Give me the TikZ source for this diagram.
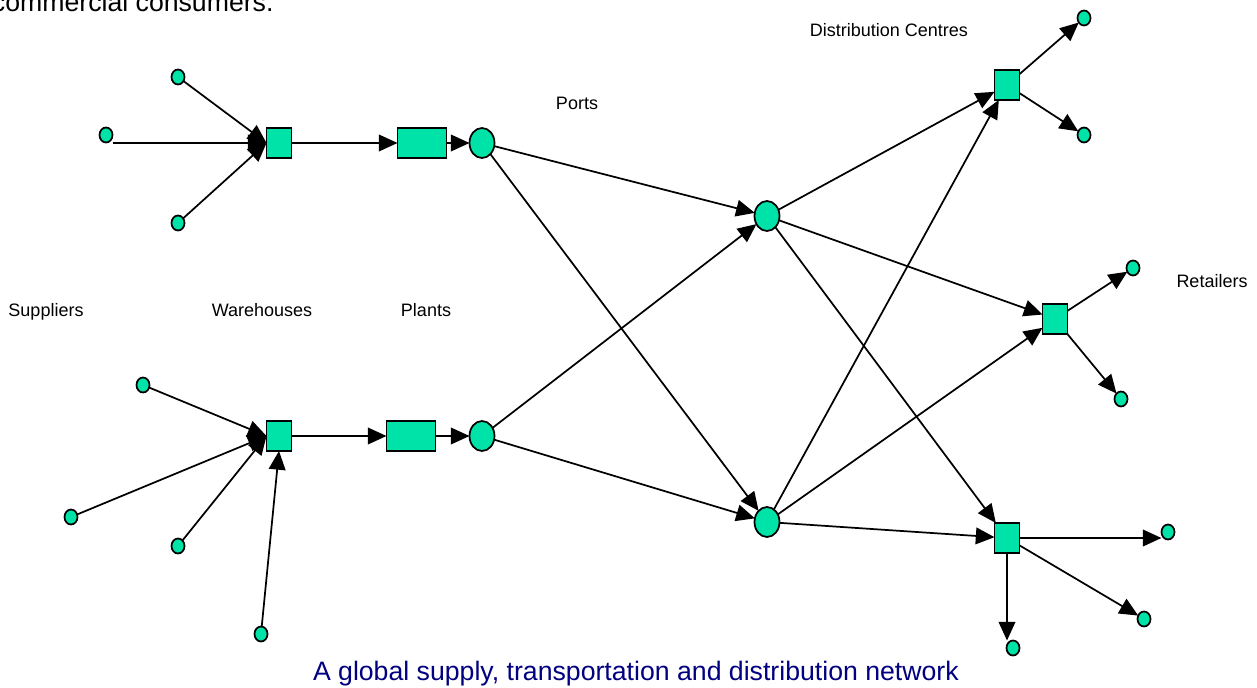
\documentclass[tikz,border=0pt]{standalone}
\usepackage{fontspec}
\setmainfont{Liberation Sans}
\usetikzlibrary{shapes.geometric,arrows.meta}
\definecolor{nodegreen}{RGB}{0,227,168}
\definecolor{captionblue}{RGB}{0,0,128}
\def\px{0.75pt}

\begin{document}
\begin{tikzpicture}[x=\px, y=-\px, line width=1.3pt,
    every node/.style={inner sep=0pt, outer sep=0pt},
    small/.style={ellipse, draw, fill=nodegreen, minimum width=9.75pt, minimum height=11.25pt},
    port/.style={ellipse, draw, fill=nodegreen, minimum width=18.75pt, minimum height=22.5pt},
    box/.style={rectangle, draw, fill=nodegreen, minimum width=18.75pt, minimum height=22.5pt},
    plant/.style={box, minimum width=36.75pt},
    stage/.style={font=\fontsize{13.5}{16}\selectfont, anchor=base},
    flow/.style={-{Triangle[length=14pt, width=12.5pt]}}]
      \useasboundingbox (0,0) rectangle (1257,688);
      \node[anchor=base west, font=\fontsize{20}{24}\selectfont] (topline) at (-8,12) {commercial consumers.};
      \node[small] (s1) at (178,77) {};
      \node[small] (s2) at (106,135) {};
      \node[small] (s3) at (178,223) {};
      \node[small] (s4) at (143,385) {};
      \node[small] (s5) at (71,517) {};
      \node[small] (s6) at (178,546) {};
      \node[small] (s7) at (261,634) {};
      \node[box] (wA) at (279,143) {};
      \node[box] (wB) at (279,436) {};
      \node[plant] (pA) at (422,143) {};
      \node[plant] (pB) at (411,436) {};
      \node[port] (oA) at (482,143) {};
      \node[port] (oB) at (482,436) {};
      \node[port] (iA) at (767,216) {};
      \node[port] (iB) at (767,522) {};
      \node[box] (dA) at (1007,85) {};
      \node[box] (dB) at (1055,319) {};
      \node[box] (dC) at (1007,538) {};
      \node[small] (r1) at (1084,18) {};
      \node[small] (r2) at (1084,135) {};
      \node[small] (r3) at (1133,268) {};
      \node[small] (r4) at (1121,399) {};
      \node[small] (r5) at (1168,532) {};
      \node[small] (r6) at (1144,619) {};
      \node[small] (r7) at (1013,648) {};
      \node[stage] (suppliers) at (46,316) {Suppliers};
      \node[stage] (warehouses) at (262,316) {Warehouses};
      \node[stage] (plants) at (426,316) {Plants};
      \node[stage] (ports) at (577,110) {Ports};
      \node[stage] (centres) at (889,37) {Distribution Centres};
      \node[stage] (retailers) at (1212,287) {Retailers};
      \draw[flow] (s1) -- (wA.west);
      \draw[flow] (s2.east |- wA.west) -- (wA.west);
      \draw[flow] (s3) -- (wA.west);
      \foreach \s in {s4,s5,s6} \draw[flow] (\s) -- (wB.west);
      \draw[flow] (s7) -- (wB.south);
      \draw[flow] (wA) -- (pA);
      \draw[flow] (pA) -- (oA);
      \draw[flow] (wB) -- (pB);
      \draw[flow] (pB) -- (oB);
      \foreach \o in {oA,oB} {
        \draw[flow] (\o) -- (iA);
        \draw[flow] (\o) -- (iB);
      }
      \foreach \i in {iA,iB} {
        \draw[flow] (\i) -- (dA);
        \draw[flow] (\i) -- (dB);
        \draw[flow] (\i) -- (dC);
      }
      \draw[flow] (dA) -- (r1);
      \draw[flow] (dA) -- (r2);
      \draw[flow] (dB) -- (r3);
      \draw[flow] (dB) -- (r4);
      \draw[flow] (dC.east) -- (dC.east -| r5.west);
      \draw[flow] (dC) -- (r6);
      \draw[flow] (dC.south) -- (dC.south |- r7.north);
      \node[anchor=base west, text=captionblue, font=\fontsize{20}{24}\selectfont] (caption) at (313,680) {A global supply, transportation and distribution network};
\end{tikzpicture}
\end{document}
